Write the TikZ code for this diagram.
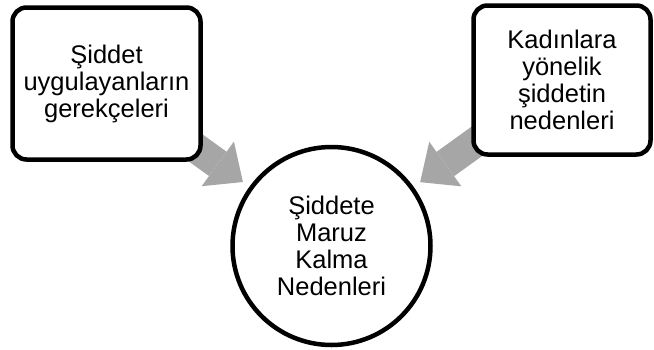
\documentclass[tikz,border=0pt]{standalone}
\usepackage{fontspec}
\setmainfont{Liberation Sans}
\usetikzlibrary{shapes, arrows.meta, positioning, backgrounds}
\definecolor{panahabu}{HTML}{A6A6A6}

\begin{document}
\begin{tikzpicture}[x=1pt, y=-1pt,
  kotak/.style={draw, line width=4.5pt, rounded corners=14pt, fill=white,
    align=center, font=\fontsize{25.5}{27}\selectfont},
  bulat/.style={circle, draw, line width=4.5pt, fill=white, minimum size=198pt,
    inner sep=0pt, align=center, font=\fontsize{25.5}{27}\selectfont},
  panah/.style={color=panahabu, line width=30pt,
    -{Triangle[width=55pt, length=31pt, line width=0pt]}, shorten >=8pt}]
  \useasboundingbox (0,0) rectangle (654,349);

  % Kotak kiri dan kanan
  \node[kotak, minimum width=188pt, minimum height=152pt] (gerekce) at (106.5,83.5)
    {Şiddet\\uygulayanların\\gerekçeleri};
  \node[kotak, minimum width=177pt, minimum height=149pt] (neden) at (562,80)
    {Kadınlara\\yönelik\\şiddetin\\nedenleri};

  % Lingkaran tengah
  \node[bulat] (maruz) at (331.5,246) {Şiddete\\Maruz\\Kalma\\Nedenleri};

  % Panah abu-abu
  \begin{scope}[on background layer]
    \draw[panah] (gerekce.center) -- (maruz);
    \draw[panah] (neden.center) -- (maruz);
  \end{scope}
\end{tikzpicture}
\end{document}
